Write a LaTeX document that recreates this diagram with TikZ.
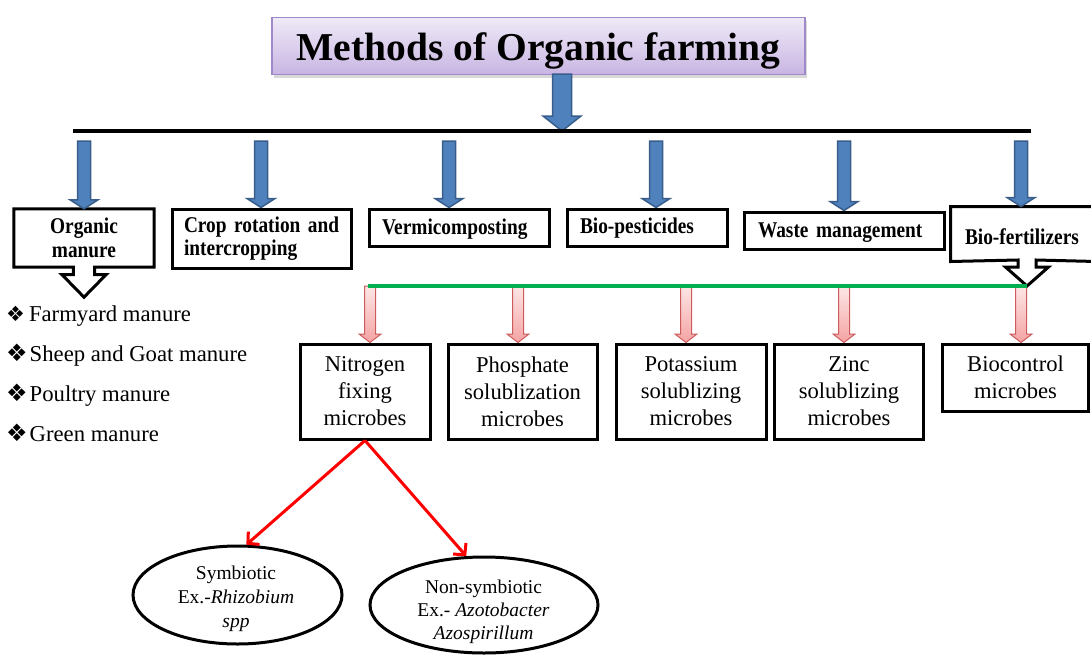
\documentclass[tikz,border=0pt]{standalone}
\usepackage{fontspec}
\setmainfont{Liberation Serif}
\newfontfamily\bcond{Liberation Serif}[FakeStretch=0.86, WordSpace=0.75]
\newfontfamily\dvs{DejaVu Sans}
\usetikzlibrary{calc,shapes.geometric,arrows.meta,shadows}
\definecolor{blueF}{HTML}{4F81BD}
\definecolor{blueD}{HTML}{385D8A}
\definecolor{pinkT}{HTML}{FDE6E6}
\definecolor{pinkB}{HTML}{F5A3A3}
\definecolor{pinkD}{HTML}{CC5C5C}
\definecolor{grn}{HTML}{00B050}
\definecolor{lavT}{HTML}{EFEAF7}
\definecolor{lavB}{HTML}{C8B5E3}
\definecolor{lavD}{HTML}{9F89C9}
\newcommand{\blkarrow}[6]{\path[#1] let \p1=(#2), \p2=(#3) in (\x1-#4,\y1) -- (\x1-#4,\y2+#6) -- (\x1-#5,\y2+#6) -- (\x1,\y2) -- (\x1+#5,\y2+#6) -- (\x1+#4,\y2+#6) -- (\x1+#4,\y1) -- cycle;}
\newcommand{\bulta}{{\dvs\fontsize{21}{21}\selectfont ❖}\hspace{4pt}}
\newcommand{\bultb}{{\dvs\fontsize{24}{24}\selectfont ❖}\hspace{2pt}}
\tikzset{
 blk/.style={fill=blueF, draw=blueD, line width=1.5pt, line join=miter},
 pnk/.style={draw=pinkD, line width=1pt, top color=pinkT, bottom color=pinkB},
 bfnt/.style={font=\bcond\bfseries\fontsize{22.5}{23.5}\selectfont},
 lbox/.style={bfnt, draw, line width=3pt, align=left, inner ysep=0pt},
 outl/.style={draw, line width=3pt, line join=miter},
 mbox/.style={draw, line width=3pt, align=center, inner sep=0pt, font=\fontsize{22.6}{27}\selectfont},
 ell/.style={ellipse, draw, line width=3pt, inner sep=0pt},
 etxt/.style={align=center, inner sep=0pt, anchor=north},
 bul/.style={inner sep=0pt, anchor=base west, font=\fontsize{22.7}{27}\selectfont},
 redarr/.style={draw=red, line width=3pt, -{Straight Barb[length=8pt,width=17pt]}},
}
\begin{document}
\begin{tikzpicture}[x=1pt,y=-1pt]
\useasboundingbox (0,0) rectangle (1091,656);
\clip (0,0) rectangle (1091,656);
% title
\node[draw=lavD, line width=1.2pt, top color=lavT, bottom color=lavB,
  drop shadow={opacity=0.3, shadow xshift=2pt, shadow yshift=-3pt},
  minimum width=533pt, minimum height=57pt, inner sep=0pt,
  text height=36.5pt, text depth=8.5pt,
  font=\bfseries\fontsize{39.5}{45}\selectfont] (title) at (538.5,46) {Methods of Organic farming};
\coordinate (bigtop) at (562,74);
\coordinate (bigtip) at (562,131);
\coordinate (hl1) at (73,131);
\coordinate (hl2) at (1031,131);
\blkarrow{blk}{bigtop}{bigtip}{9.5pt}{19pt}{15pt}
\draw[line width=4pt] (hl1) -- (hl2);
% level 2 boxes
\node[bfnt, align=center, text width=130pt, inner xsep=5pt, inner ysep=0pt, minimum height=58pt] (om) at (84,238) {Organic\\manure};
\draw[outl] (om.south west) -- (om.north west) -- (om.north east) -- (om.south east)
  -- ($(om.south)+(10.7,0)$) -- ++(0,7.5) -- ++(11.3,0) -- ($(om.south)+(0,30)$)
  -- ($(om.south)+(-22,7.5)$) -- ++(11.3,0) -- ($(om.south)+(-10.7,0)$) -- cycle;
\node[lbox, text width=155pt, inner xsep=12pt, minimum height=59pt] (crop) at (261.5,238.5) {\mbox{Crop rotation and}\\intercropping};
\node[lbox, text width=154pt, inner xsep=13pt, minimum height=37pt, text height=18pt, text depth=5pt] (vermi) at (459,227.5) {Vermicomposting};
\node[lbox, text width=134pt, inner xsep=13pt, minimum height=37pt, text height=16pt, text depth=5pt] (biop) at (647,227.5) {Bio-pesticides};
\node[lbox, text width=172pt, inner xsep=14pt, minimum height=37pt, text height=18pt, text depth=5pt] (waste) at (844,230.5) {Waste management};
\node[lbox, draw=none, text width=117pt, inner xsep=13pt, minimum height=52pt, text height=25pt, text depth=5pt] (biof) at (1023.5,234) {Bio-fertilizers};
\coordinate (bfa) at (1027,260);
\coordinate (bftip) at (1027,286);
\draw[outl] (biof.south west) -- (biof.north west) -- (biof.north east) -- (biof.south east)
  -- ($(bfa)+(9,0)$) -- ++(0,7) -- ++(12.5,0) -- (bftip)
  -- ($(bfa)+(-21.5,7)$) -- ++(12.5,0) -- ($(bfa)+(-9,0)$) -- cycle;
% blue arrows
\coordinate (a1) at (84,141);
\coordinate (a2) at (261,141);
\coordinate (a3) at (449,141);
\coordinate (a4) at (656,141);
\coordinate (a5) at (844,141);
\coordinate (a6) at (1021,141);
\foreach \t/\b in {a1/om, a2/crop, a3/vermi, a4/biop, a5/waste, a6/biof}
  {\blkarrow{blk}{\t}{\b.north}{6.5pt}{14pt}{9pt}}
% bullets
\node[bul] (b1) at (6,321) {\bulta Farmyard manure};
\node[bul] (b2) at (6,361.5) {\bultb Sheep and Goat manure};
\node[bul] (b3) at (6,401.5) {\bultb Poultry manure};
\node[bul] (b4) at (6,441.5) {\bultb Green manure};
% microbe boxes
\node[mbox, minimum width=130pt, minimum height=95pt] (nit) at (365,391.5) {Nitrogen\\fixing\\microbes};
\node[mbox, minimum width=149pt, minimum height=95pt] (pho) at (522.5,391.5) {Phosphate\\solublization\\microbes};
\node[mbox, minimum width=150pt, minimum height=95pt] (pot) at (691,391.5) {Potassium\\solublizing\\microbes};
\node[mbox, minimum width=149.5pt, minimum height=95pt] (zin) at (849,391.5) {Zinc\\solublizing\\microbes};
\node[mbox, minimum width=146pt, minimum height=67pt] (bioc) at (1015.5,377.5) {Biocontrol\\microbes};
% pink arrows
\coordinate (p1) at (370,286);
\coordinate (p2) at (518,286);
\coordinate (p3) at (686,286);
\coordinate (p4) at (844,286);
\coordinate (p5) at (1021,286);
\foreach \t/\b in {p1/nit, p2/pho, p3/pot, p4/zin, p5/bioc}
  {\blkarrow{pnk}{\t}{\b.north}{5.5pt}{11pt}{8.5pt}}
\coordinate (gstart) at (368,286);
\draw[grn, line width=4pt] (gstart) -- (bftip);
% ellipses
\node[ell, minimum width=209pt, minimum height=98pt] (sym) at (237.5,595) {};
\node[ell, minimum width=228pt, minimum height=96pt] (nsym) at (484,605) {};
\node[etxt, font=\fontsize{19.5}{24}\selectfont] (symt) at (236,565.7) {Symbiotic\\Ex.-\textit{Rhizobium}\\\textit{spp}};
\node[etxt, font=\fontsize{19.5}{23}\selectfont] (nsymt) at (483.5,579.7) {Non-symbiotic\\Ex.- \textit{Azotobacter}\\\textit{Azospirillum}};
\draw[redarr] (nit.south) -- (sym.80);
\draw[redarr] (nit.south) -- (nsym.110);
\end{tikzpicture}
\end{document}
